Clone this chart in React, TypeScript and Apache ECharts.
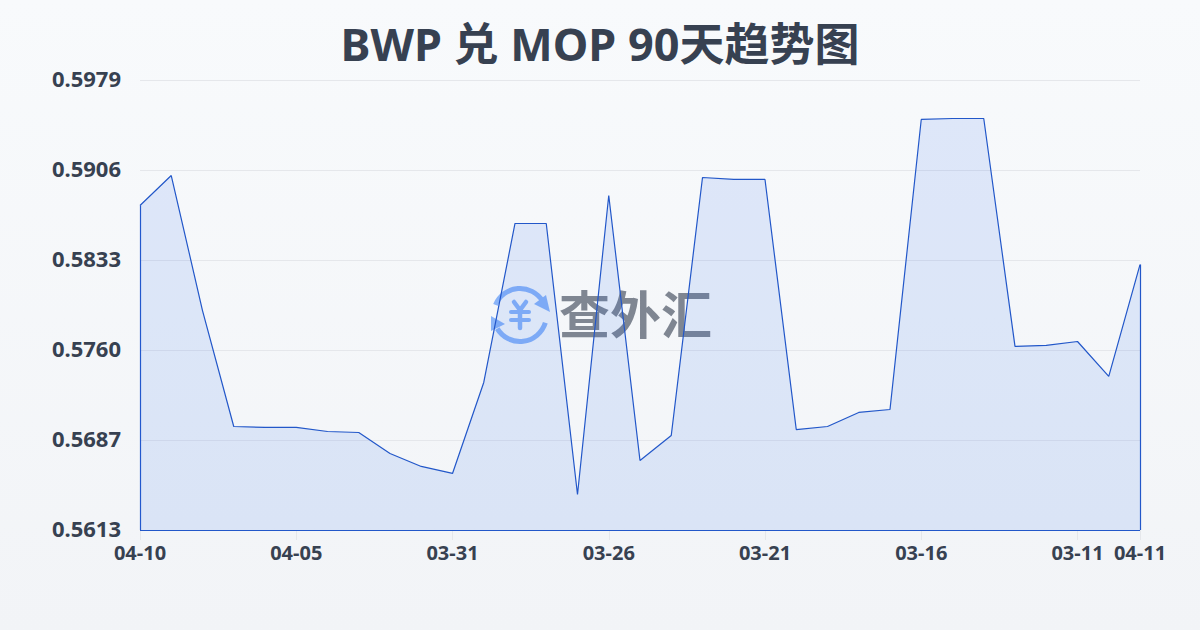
import React, { useEffect, useRef } from "react";
import * as echarts from "echarts";

const titleText = "BWP 兑 MOP 90天趋势图";
const categories = [
  "04-10","04-09","04-08","04-07","04-06","04-05","04-04","04-03","04-02","04-01",
  "03-31","03-30","03-29","03-28","03-27","03-26","03-25","03-24","03-23","03-22",
  "03-21","03-20","03-19","03-18","03-17","03-16","03-15","03-14","03-13","03-12",
  "03-11","03-10","04-11",
];
const rates = [
  0.58773,0.59017,0.57919,0.56976,0.56968,0.56968,0.56935,0.56927,0.56756,0.56651,
  0.56594,0.57334,0.58627,0.58627,0.56423,0.58855,0.56699,0.56903,0.59001,0.58985,
  0.58985,0.56951,0.56976,0.5709,0.57114,0.59473,0.59481,0.59481,0.57627,0.57635,
  0.57667,0.57383,0.58293,
];
const yMin = 0.56134;
const yMax = 0.59794;
const yStep = 0.00732;

const ink = "#374151";
const lineBlue = "#2257c9";
const logoBlue = "#8ab4f8";
const latinFont = "'Noto Sans','Noto Sans CJK SC',sans-serif";

export default function App() {
  const ref = useRef<HTMLDivElement>(null);
  useEffect(() => {
    document.body.style.margin = "0";
    const chart = echarts.init(ref.current!, undefined, { renderer: "svg" });
    const last = categories.length - 1;
    const showIdx = (i: number) => i === last || i % 5 === 0;
    chart.setOption({
      animation: false,
      backgroundColor: new echarts.graphic.LinearGradient(0, 0, 0, 1, [
        { offset: 0, color: "#f8fafc" },
        { offset: 1, color: "#f2f4f7" },
      ]),
      title: {
        text: titleText,
        left: "center",
        top: 16,
        textStyle: {
          fontFamily: latinFont,
          fontSize: 45,
          fontWeight: "bold",
          color: ink,
        },
      },
      grid: { left: 140, right: 60, top: 80, bottom: 100 },
      xAxis: {
        type: "category",
        data: categories,
        boundaryGap: false,
        axisLine: { show: false },
        axisTick: { show: true, length: 10, interval: (i: number) => showIdx(i), lineStyle: { color: "#e5e7eb", width: 1 } },
        axisLabel: {
          interval: (i: number) => showIdx(i),
          hideOverlap: false,
          fontFamily: latinFont,
          fontSize: 20,
          fontWeight: "bold",
          color: ink,
          margin: 12,
        },
      },
      yAxis: {
        type: "value",
        min: yMin,
        max: yMax,
        interval: yStep,
        axisLine: { show: false },
        axisTick: { show: false },
        splitLine: { lineStyle: { color: "#e5e7eb", width: 1 } },
        axisLabel: {
          formatter: (v: number) => v.toFixed(4),
          fontFamily: latinFont,
          fontSize: 22,
          fontWeight: "bold",
          color: ink,
          margin: 19,
          verticalAlign: "bottom",
          lineHeight: 5,
        },
      },
      series: [
        {
          type: "line",
          data: rates,
          z: 5,
          symbol: "none",
          smooth: false,
          lineStyle: { color: lineBlue, width: 1.2 },
          areaStyle: { color: "rgba(37,99,235,0.17)", origin: "start" },
          markLine: {
            silent: true,
            symbol: "none",
            label: { show: false },
            lineStyle: { color: lineBlue, width: 1.2, type: "solid" },
            data: [
              [{ coord: [0, yMin] }, { coord: [0, rates[0]] }],
              [{ coord: [0, yMin] }, { coord: [last, yMin] }],
              [{ coord: [last, yMin] }, { coord: [last, rates[last]] }],
            ],
          },
        },
      ],
      graphic: {
        elements: [
          {
            type: "group",
            z: 1,
            silent: true,
            children: [
              { type: "arc", shape: { cx: 520, cy: 315, r: 26.5, startAngle: -2.75, endAngle: -0.55, clockwise: true }, style: { stroke: logoBlue, lineWidth: 5, fill: "none" } },
              { type: "arc", shape: { cx: 520, cy: 315, r: 26.5, startAngle: 0.3, endAngle: 2.6, clockwise: true }, style: { stroke: logoBlue, lineWidth: 5, fill: "none" } },
              { type: "polygon", shape: { points: [[546, 295], [550, 312], [534, 304]] }, style: { fill: logoBlue } },
              { type: "polygon", shape: { points: [[491, 316], [505, 324], [491, 331]] }, style: { fill: logoBlue } },
              { type: "polyline", shape: { points: [[514, 302], [520, 310], [526, 302]] }, style: { stroke: logoBlue, lineWidth: 4.5, lineCap: "round", fill: "none" } },
              { type: "line", shape: { x1: 511, y1: 312, x2: 529, y2: 312 }, style: { stroke: logoBlue, lineWidth: 4, lineCap: "round" } },
              { type: "line", shape: { x1: 511, y1: 320, x2: 529, y2: 320 }, style: { stroke: logoBlue, lineWidth: 4, lineCap: "round" } },
              { type: "line", shape: { x1: 520, y1: 311, x2: 520, y2: 328 }, style: { stroke: logoBlue, lineWidth: 4.5, lineCap: "round" } },
              {
                type: "text",
                x: 559,
                y: 286,
                style: {
                  text: "查外汇",
                  fontFamily: "'Noto Sans CJK SC',sans-serif",
                  fontSize: 51,
                  fontWeight: "bold",
                  fill: "#7f8692",
                },
              },
            ],
          },
        ],
      },
    });
    return () => chart.dispose();
  }, []);
  return <div ref={ref} style={{ width: 1200, height: 630 }} />;
}
